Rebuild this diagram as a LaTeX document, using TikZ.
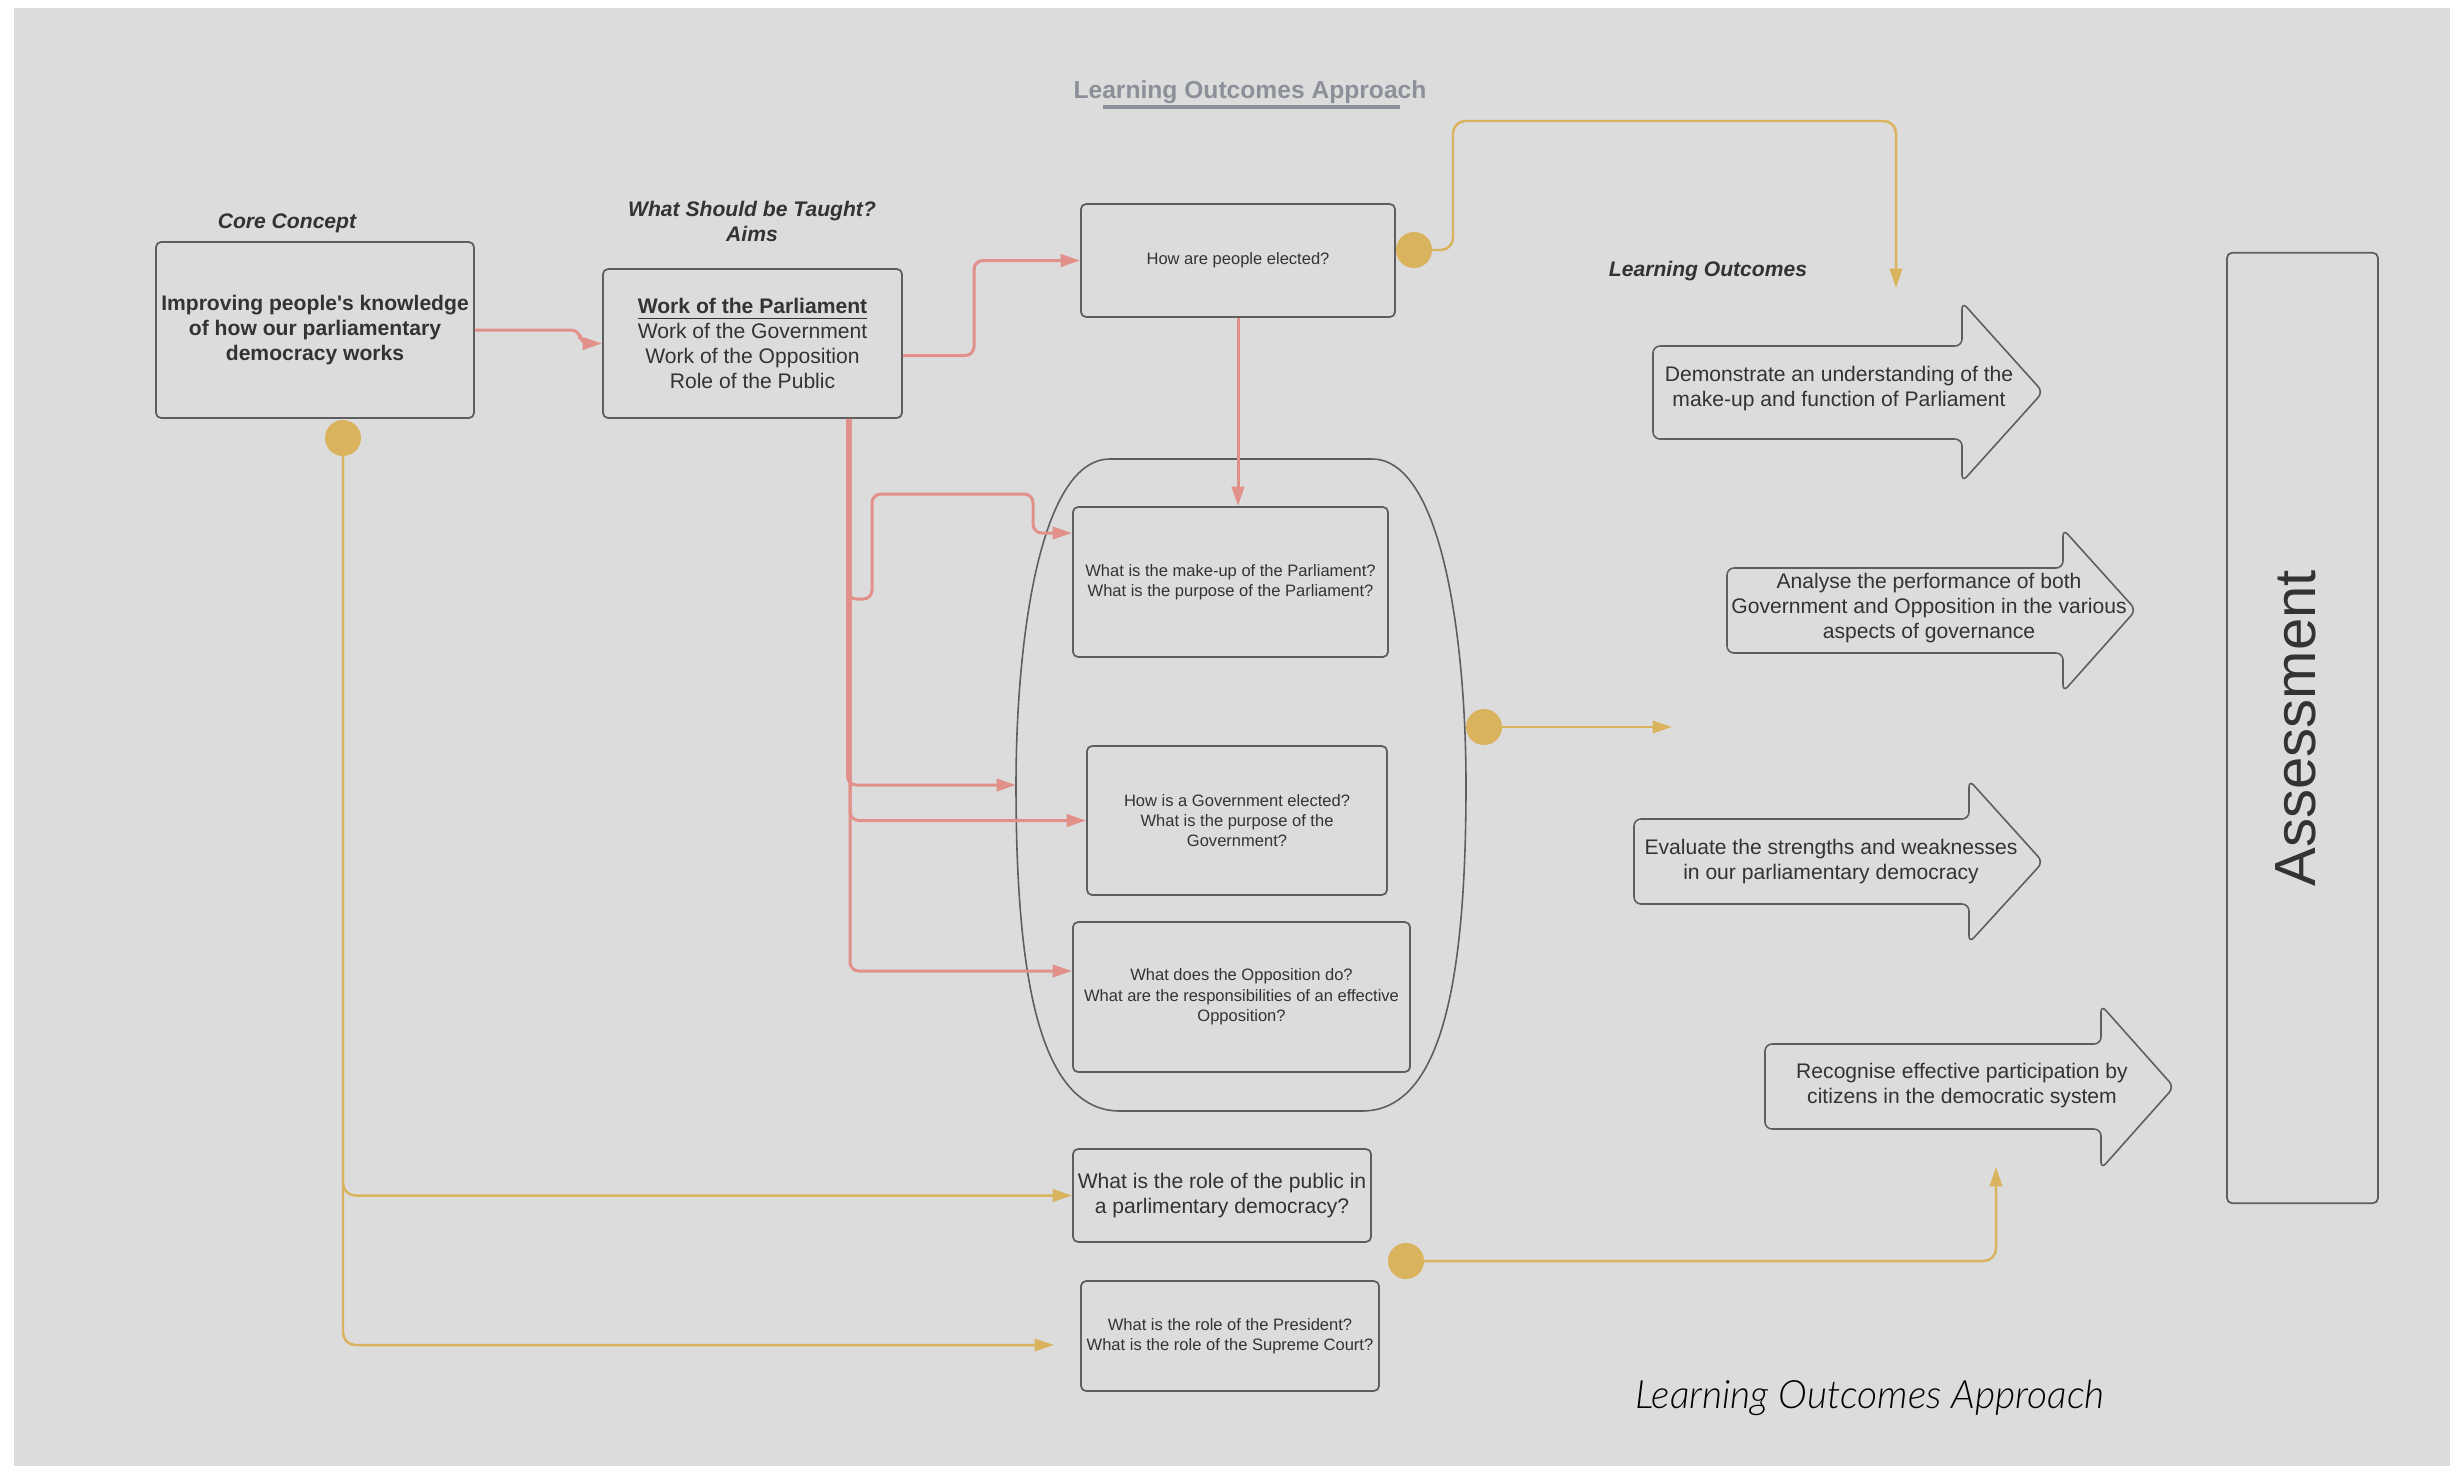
\documentclass[tikz,border=0pt]{standalone}
\usepackage{fontspec}
\setmainfont{Liberation Sans}[Ligatures=TeXOff]
\newfontfamily\thinfont{Lato Light}
\usepackage{xcolor}
\usetikzlibrary{arrows.meta, positioning, calc}

\definecolor{bgGray}{HTML}{DCDCDC}
\definecolor{lineGray}{HTML}{5E5E5E}
\definecolor{textDark}{HTML}{333333}
\definecolor{salmon}{HTML}{E2918A}
\definecolor{gold}{HTML}{DAB35E}
\definecolor{titleGray}{HTML}{8C9099}

\begin{document}
\begin{tikzpicture}[
    x=0.01cm, y=-0.01cm,
    box/.style={rectangle, rounded corners=1.5pt, draw=lineGray, line width=0.5pt, text=textDark, align=center, inner sep=1pt, font=\fontsize{6}{7.1}\selectfont},
    smallbox/.style={box, font=\fontsize{4.7}{5.8}\selectfont},
    outline/.style={draw=lineGray, line width=0.45pt, rounded corners=2pt, line join=round},
    outtext/.style={text=textDark, align=center, inner sep=1pt, font=\fontsize{6}{7.1}\selectfont},
    heading/.style={text=textDark, align=center, font=\fontsize{6}{7.1}\selectfont\bfseries\itshape},
    dot/.style={circle, fill=gold, minimum size=0.36cm, inner sep=0pt},
    redarrow/.style={draw=salmon, line width=0.85pt, rounded corners=2.5pt, -{Triangle[length=5.5pt, width=3.5pt]}},
    goldarrow/.style={draw=gold, line width=0.7pt, rounded corners=3.5pt, -{Triangle[length=5.5pt, width=3.5pt]}}
]

% Canvas
\useasboundingbox (0,0) rectangle (2463,1469);
\fill[white] (0,0) rectangle (2463,1469);
\fill[bgGray] (14,8) rectangle (2450,1466);

% Title
\node[text=titleGray, font=\fontsize{7}{8}\selectfont\bfseries] (title) at (1250,92) {Learning Outcomes Approach};
\draw[titleGray, line width=0.9pt] ($(title.center)+(-147,15)$) -- ($(title.center)+(150,15)$);

% Core concept
\node[heading] (coreLbl) at (287,223) {Core Concept};
\node[box, font=\fontsize{6}{7.1}\selectfont\bfseries, minimum width=3.18cm, minimum height=1.76cm] (core) at (315,330) {
    Improving people's knowledge\\
    of how our parliamentary\\
    democracy works
};

% Aims
\node[heading] (aimsLbl) at (752,221) {What Should be Taught?\\Aims};
\node[box, minimum width=2.99cm, minimum height=1.49cm] (aims) at (752.5,343.5) {
    \underline{\textbf{Work of the Parliament}}\\
    Work of the Government\\
    Work of the Opposition\\
    Role of the Public
};

% Questions
\node[smallbox, minimum width=3.14cm, minimum height=1.13cm] (how) at (1238,260.5) {How are people elected?};

\draw[draw=lineGray, line width=0.45pt] (1110,459) -- (1372,459)
    .. controls (1442,459) and (1466,640) .. (1466,785)
    .. controls (1466,980) and (1442,1111) .. (1362,1111) -- (1120,1111)
    .. controls (1040,1111) and (1016,980) .. (1016,785)
    .. controls (1016,640) and (1040,459) .. (1110,459) -- cycle;
\coordinate (grpW) at (1016,785);

\node[smallbox, minimum width=3.15cm, minimum height=1.5cm] (boxP) at (1230.5,582) {
    What is the make-up of the Parliament?\\
    What is the purpose of the Parliament?
};
\node[smallbox, minimum width=3.0cm, minimum height=1.49cm] (boxG) at (1237,820.5) {
    How is a Government elected?\\
    What is the purpose of the\\
    Government?
};
\node[smallbox, minimum width=3.37cm, minimum height=1.5cm] (boxO) at (1241.5,997) {
    What does the Opposition do?\\
    What are the responsibilities of an effective\\
    Opposition?
};
\node[box, minimum width=2.98cm, minimum height=0.93cm] (public) at (1222,1195.5) {
    What is the role of the public in\\
    a parlimentary democracy?
};
\node[smallbox, minimum width=2.98cm, minimum height=1.1cm] (pres) at (1230,1336) {
    What is the role of the President?\\
    What is the role of the Supreme Court?
};

% Learning outcomes
\node[heading] (loLbl) at (1708,271) {Learning Outcomes};

\draw[outline] (1653,346) -- (1962,346) -- (1962,302) -- (2043,392) -- (1962,482) -- (1962,439) -- (1653,439) -- cycle;
\node[outtext] (outA) at (1839,389) {Demonstrate an understanding of the\\make-up and function of Parliament};

\draw[outline] (1727,568) -- (2063,568) -- (2063,529) -- (2136,610) -- (2063,692) -- (2063,653) -- (1727,653) -- cycle;
\node[outtext] (outB) at (1929,608) {Analyse the performance of both\\Government and Opposition in the various\\aspects of governance};

\draw[outline] (1634,819) -- (1969,819) -- (1969,780) -- (2043,862) -- (1969,943) -- (1969,904) -- (1634,904) -- cycle;
\node[outtext] (outC) at (1831,862) {Evaluate the strengths and weaknesses\\in our parliamentary democracy};

\draw[outline] (1765,1044) -- (2101,1044) -- (2101,1005) -- (2174,1087) -- (2101,1169) -- (2101,1129) -- (1765,1129) -- cycle;
\node[outtext] (outD) at (1962,1086) {Recognise effective participation by\\citizens in the democratic system};

% Assessment
\node[box, minimum width=1.51cm, minimum height=9.5cm] (assess) at (2302.5,728) {};
\node[rotate=90, text=textDark, font=\fontsize{16.5}{18}\selectfont] (assessLbl) at (2296,728) {Assessment};

\node[font=\thinfont\itshape\fontsize{11.1}{13}\selectfont, text=black] (footLbl) at (1870,1398) {Learning Outcomes Approach};

% Red connectors
\coordinate (trunk) at ($(aims.south)+(97.5,0)$);
\draw[redarrow] (core.east) -- ++(105,0) |- (aims.west);
\draw[redarrow] ($(aims.east)+(0,12)$) -- (974,355.5) |- (how.west);
\draw[redarrow] (how.south) -- (how.south |- boxP.north);
\draw[redarrow] ($(trunk)+(-2.5,0)$) -- (847.5,599) -- (872,599) -- (872,494) -- (1033,494) -- (1033,533) -- ($(boxP.west)+(0,-49)$);
\draw[redarrow] ($(trunk)+(-2.5,0)$) |- (grpW);
\draw[redarrow] (trunk) |- (boxG.west);
\draw[redarrow] (trunk) |- ($(boxO.west)+(0,-26)$);

% Gold connectors
\coordinate (loIn) at (1896,288);
\coordinate (grpOut) at (1672,727);
\coordinate (presIn) at (1054,1345);
\coordinate (pubOut) at (1996,1167);

\draw[goldarrow] (1414,250) -| (1453,121) -| (loIn);
\draw[goldarrow] (343,438) |- (public.west);
\draw[goldarrow] (343,438) |- (presIn);
\draw[goldarrow] (1484,727) -- (grpOut);
\draw[goldarrow] (1406,1261) -| (pubOut);

\node[dot] (howDot) at (1414,250) {};
\node[dot] (coreDot) at (343,438) {};
\node[dot] (grpDot) at (1484,727) {};
\node[dot] (pubDot) at (1406,1261) {};

\end{tikzpicture}
\end{document}
